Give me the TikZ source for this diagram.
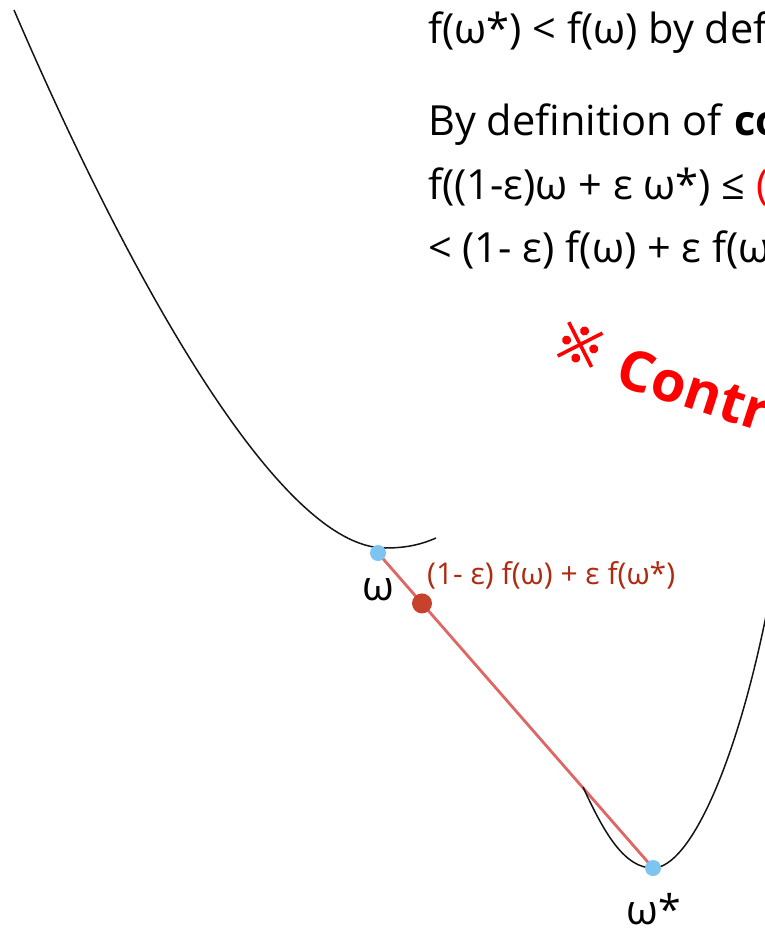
\documentclass[tikz,border=0pt]{standalone}
\usepackage{fontspec}
\setmainfont{Open Sans}
\newfontfamily\cjk[FakeBold=3]{Noto Sans CJK SC}
\usepackage{tikz}
\usetikzlibrary{backgrounds}
\definecolor{curvegray}{RGB}{20,20,20}
\definecolor{chordred}{RGB}{224,102,102}
\definecolor{minblue}{RGB}{125,196,240}
\definecolor{mixred}{RGB}{200,65,45}
\definecolor{labelred}{RGB}{176,42,18}

\begin{document}
\begin{tikzpicture}[
    x=1pt, y=-1pt,
    curve/.style={draw=curvegray, line width=1.5pt},
    chord/.style={draw=chordred, line width=2.8pt},
    mindot/.style={circle, fill=minblue, inner sep=0pt, minimum size=16pt},
    mixdot/.style={circle, fill=mixred, inner sep=0pt, minimum size=20pt},
    proof/.style={anchor=base west, inner sep=0pt, font=\fontsize{41.5}{48}\selectfont},
    ptlabel/.style={anchor=base, inner sep=0pt, font=\fontsize{41}{48}\selectfont},
]
    \useasboundingbox (0,0) rectangle (764,934);

    % the two valleys
    \draw[curve] (14,10) .. controls (130,280) and (280,548) .. (385,548)
        .. controls (405,548) and (420,545) .. (436,538);
    \draw[curve] (583,787) .. controls (605,835) and (625,868) .. (653,868)
        .. controls (690,868) and (740,760) .. (772,585);

    \node[mindot] (w) at (378,553) {};
    \node[mindot] (wstar) at (653,868) {};

    \begin{pgfonlayer}{background}
        \draw[chord] (w.center) -- (wstar.center);
    \end{pgfonlayer}
    \path (w.center) -- node[mixdot, pos=0.16] (mix) {} (wstar.center);

    \node[ptlabel] (wlabel) at (378,600) {ω};
    \node[ptlabel] (wstarlabel) at (654,924) {ω*};
    \node[anchor=base west, inner sep=0pt, text=labelred,
          font=\fontsize{30}{36}\selectfont] (mixlabel) at (427,584)
        {(1- ε) f(ω) + ε f(ω*)};

    % argument on the right
    \node[proof] (line1) at (428,44) {f(ω*) < f(ω) by def};
    \node[proof] (line2) at (428,135) {By definition of \textbf{co}};
    \node[proof] (line3) at (428,199) {f((1-ε)ω + ε ω*) ≤ {\color{red}(}};
    \node[proof] (line4) at (428,262) {< (1- ε) f(ω) + ε f(ω};

    \node[rotate=-18, inner sep=0pt, text=red,
          font=\cjk\fontsize{50}{56}\selectfont] (mark) at (580,345) {※};
    \node[rotate=-18, anchor=base west, inner sep=0pt, text=red,
          font=\bfseries\fontsize{56}{64}\selectfont] (contra) at (613,384) {Contr};
\end{tikzpicture}
\end{document}
